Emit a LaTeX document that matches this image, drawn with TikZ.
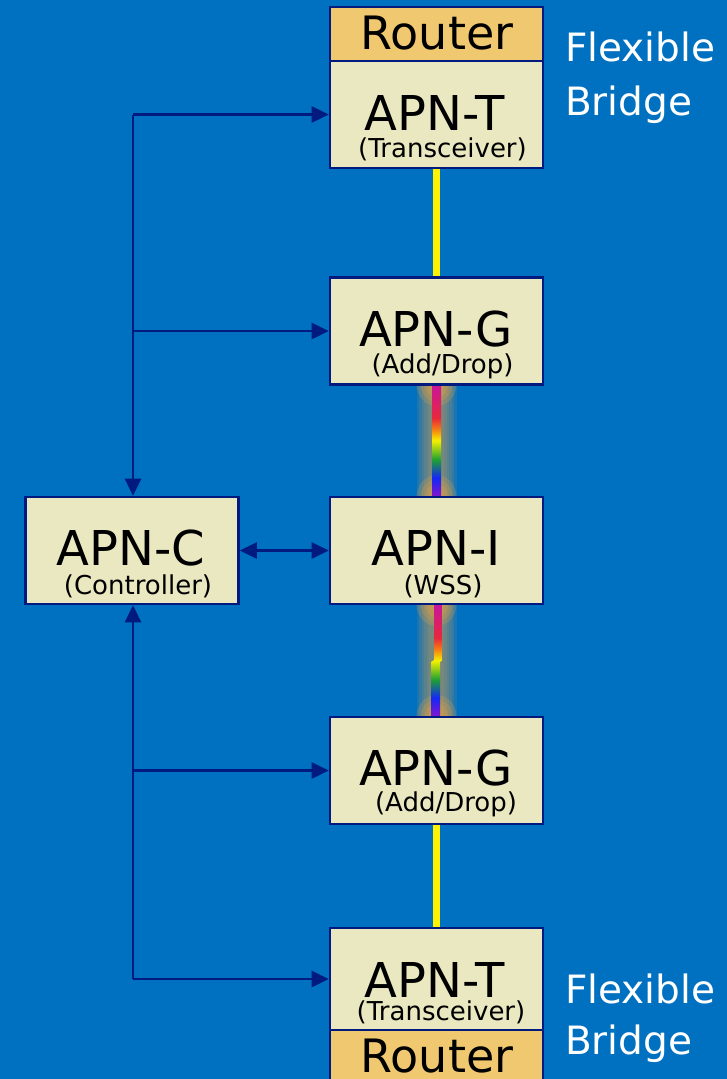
\documentclass[tikz,border=0pt]{standalone}
\usepackage{fontspec}
\setmainfont{DejaVu Sans}
\usetikzlibrary{arrows.meta}
\definecolor{bg}{RGB}{0,112,192}
\definecolor{navy}{RGB}{0,26,128}
\definecolor{boxfill}{RGB}{234,232,192}
\definecolor{routerfill}{RGB}{240,200,112}
\definecolor{glowc}{RGB}{225,160,70}
\definecolor{rbmag}{RGB}{200,20,160}
\definecolor{rbred}{RGB}{232,40,60}
\definecolor{rborange}{RGB}{245,125,20}
\definecolor{rbyellow}{RGB}{245,240,0}
\definecolor{rbgreen}{RGB}{30,160,50}
\definecolor{rbblue}{RGB}{20,40,245}
\definecolor{rbviolet}{RGB}{135,20,205}
\pgfdeclareverticalshading{rainbow}{100bp}{color(0bp)=(rbviolet); color(25bp)=(rbviolet); color(33.5bp)=(rbblue); color(41.5bp)=(rbgreen); color(50bp)=(rbyellow); color(55bp)=(rborange); color(60bp)=(rbred); color(75bp)=(rbmag); color(100bp)=(rbmag)}
\tikzset{
  boxnode/.style={draw=navy, line width=2.6pt, fill=boxfill, inner sep=0pt, minimum width=213pt},
  routernode/.style={boxnode, fill=routerfill},
  bigtxt/.style={anchor=base, inner sep=0pt, font=\fontsize{48}{52}\selectfont},
  routertxt/.style={anchor=base, inner sep=0pt, font=\fontsize{46}{50}\selectfont},
  subtxt/.style={anchor=base, inner sep=0pt, font=\fontsize{26}{30}\selectfont},
  sidetxt/.style={anchor=base west, inner sep=0pt, text=white, font=\fontsize{39}{43}\selectfont},
  ctl/.style={draw=navy, line width=2.7pt},
  arr/.style={ctl, -{Triangle[length=17pt, width=16pt]}},
  darr/.style={ctl, {Triangle[length=17pt, width=16pt]}-{Triangle[length=17pt, width=16pt]}},
  fiber/.style={draw=yellow, line width=7pt},
}
\begin{document}
\begin{tikzpicture}[x=1pt, y=-1pt]
\fill[bg] (0,0) rectangle (727,1079);
\useasboundingbox (0,0) rectangle (727,1079);
\begin{scope}
\clip (0,0) rectangle (727,1079);

% glows behind rainbow links
\foreach \ya/\yb in {384/497, 604/717}{
  \foreach \w in {40,35,30,25,20,15}{
    \draw[glowc, opacity=0.12, line width=\w pt] (436.5,\ya) -- (436.5,\yb);
  }
  \foreach \yy in {\ya,\yb}{
    \foreach \r in {20,16,12,8}{
      \fill[glowc, opacity=0.25] (436.5,\yy) ellipse ({\r pt} and {1.1*\r pt});
    }
  }
}

% yellow fibers
\coordinate (y1a) at (436.5,168);
\coordinate (y1b) at (436.5,278);
\coordinate (y2a) at (436.5,824);
\coordinate (y2b) at (436.5,928);
\draw[fiber] (y1a) -- (y1b);
\draw[fiber] (y2a) -- (y2b);

% rainbow links
\shade[shading=rainbow] (432,384) rectangle (441,497);
\shade[shading=rainbow] (434,604) -- (442.5,604) -- (442.5,660) -- (440,662) -- (440,717) -- (431,717) -- (431,662) -- (434,660) -- cycle;

% boxes
\node[routernode, minimum height=54pt] (router1) at (436.5,34) {};
\node[boxnode, minimum height=107pt] (apnt1) at (436.5,114.5) {};
\node[boxnode, minimum height=107pt] (apng1) at (436.5,331) {};
\node[boxnode, minimum height=107pt] (apni) at (436.5,550.5) {};
\node[boxnode, minimum height=107pt] (apnc) at (132,550.5) {};
\node[boxnode, minimum height=107pt] (apng2) at (436.5,770.5) {};
\node[boxnode, minimum height=102pt] (apnt2) at (436.5,979) {};
\node[routernode, minimum height=54pt] (router2) at (436.5,1057) {};

% texts
\node[routertxt] (router1t) at (437,49) {Router};
\node[bigtxt] (apnt1t) at (434.5,130.5) {APN-T};
\node[subtxt] (apnt1s) at (442.5,157) {(Transceiver)};
\node[bigtxt] (apng1t) at (436,346) {APN-G};
\node[subtxt] (apng1s) at (442.5,373.5) {(Add/Drop)};
\node[bigtxt] (apnit) at (436,565) {APN-I};
\node[subtxt] (apnis) at (443,594) {(WSS)};
\node[bigtxt] (apnct) at (131,565) {APN-C};
\node[subtxt] (apncs) at (138,594) {(Controller)};
\node[bigtxt] (apng2t) at (436,785) {APN-G};
\node[subtxt] (apng2s) at (446,811.5) {(Add/Drop)};
\node[bigtxt] (apnt2t) at (434.5,997.5) {APN-T};
\node[subtxt] (apnt2s) at (441,1020) {(Transceiver)};
\node[routertxt] (router2t) at (437,1072) {Router};

\node[sidetxt] (fb1a) at (565,61) {Flexible};
\node[sidetxt] (fb1b) at (565,115) {Bridge};
\node[sidetxt] (fb2a) at (565,1003) {Flexible};
\node[sidetxt] (fb2b) at (565,1054) {Bridge};

% controller connectors
\coordinate (ctop) at (133,114.5);
\coordinate (cg1) at (133,331);
\coordinate (cg2) at (133,770.5);
\coordinate (cbot) at (133,979);
\draw[arr] (ctop) -- (apnc.north -| ctop);
\draw[arr] (ctop) -- (apnt1.west);
\draw[arr] (cg1) -- (apng1.west);
\draw[arr] (cbot) -- (apnc.south -| cbot);
\draw[arr] (cg2) -- (apng2.west);
\draw[arr] (cbot) -- (apnt2.west);
\draw[darr] (apnc.east) -- (apni.west);
\end{scope}
\end{tikzpicture}
\end{document}
